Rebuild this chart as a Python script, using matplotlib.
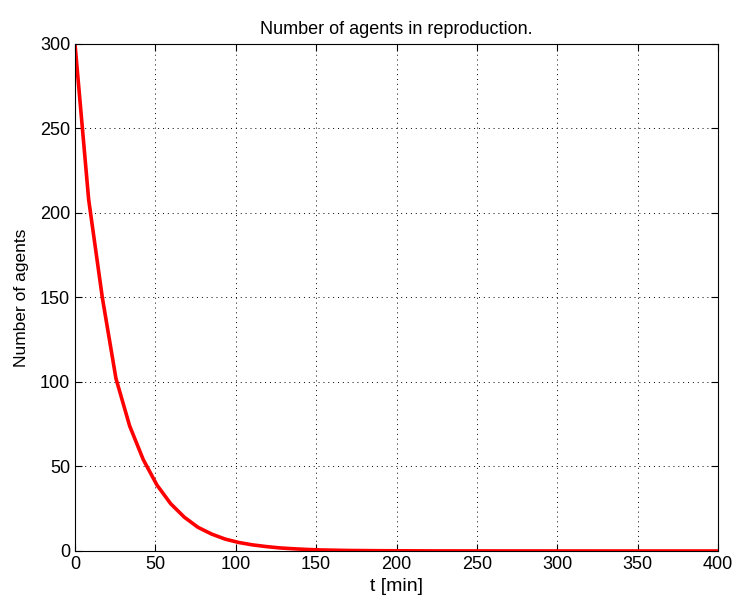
import numpy as np
import matplotlib.pyplot as plt

plt.rcParams['font.family'] = ['Liberation Sans', 'DejaVu Sans']

# agents still reproducing, sampled along the run
t_min = [0, 8.5, 17, 25.5, 34, 42.5, 51, 59.5, 68, 76.5, 85, 93.5, 102, 110.5,
         119, 127.5, 136, 144.5, 153, 161.5, 170, 190, 220, 260, 300, 350, 400]
agents = [300, 208, 150, 102, 74, 54, 39, 28, 20, 14, 10, 7, 5, 3.6,
          2.6, 1.8, 1.3, 0.9, 0.6, 0.45, 0.3, 0.15, 0.05, 0.02, 0.01, 0, 0]

fig = plt.figure(figsize=(7.38, 6.0), dpi=100)
ax = fig.add_axes([0.1016, 0.0817, 0.8714, 0.845])

ax.plot(t_min, agents, color='red', lw=2.6)

ax.set_xlim(0, 400)
ax.set_ylim(0, 300)
ax.set_xticks(np.arange(0, 401, 50))
ax.set_yticks(np.arange(0, 301, 50))
ax.tick_params(direction='in', top=True, right=True, labelsize=13, length=5)
ax.grid(True, color='black', linestyle=(0, (1, 4)), linewidth=0.7)
for s in ax.spines.values():
    s.set_linewidth(0.8)

ax.set_title('Number of agents in reproduction.', fontsize=13, pad=7)
ax.set_xlabel('t [min]', fontsize=14, labelpad=4)
ax.set_ylabel('Number of agents', fontsize=12.5, labelpad=8)

fig.savefig('out.png')
